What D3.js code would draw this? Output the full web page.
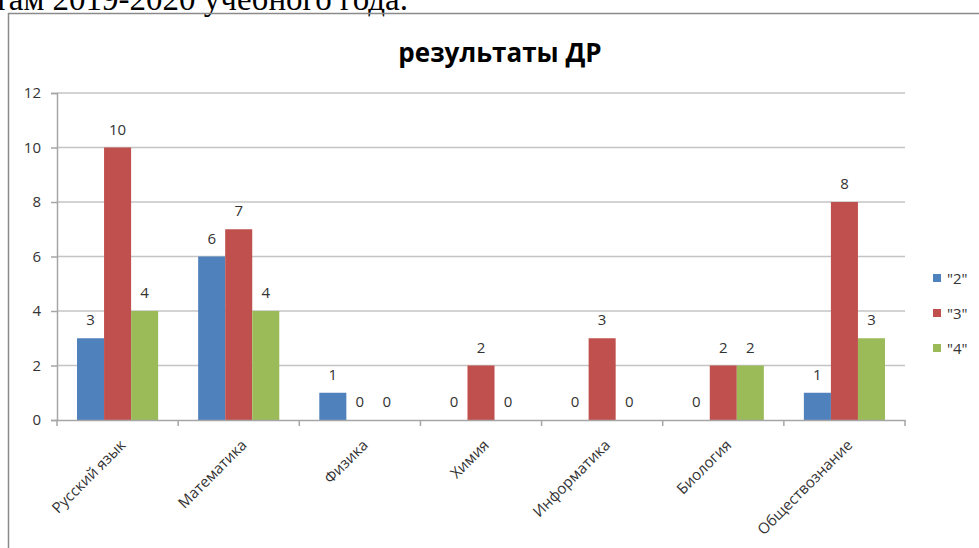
<!DOCTYPE html>
<html>
<head>
<meta charset="utf-8">
<script src="https://cdn.jsdelivr.net/npm/d3@7"></script>
<style>
  body { margin: 0; background: #fff; overflow: hidden; }
  svg { display: block; }
</style>
</head>
<body>
<svg id="chart" width="979" height="548"></svg>
<script>
// data
var subjects = [ 'Русский язык', 'Математика', 'Физика', 'Химия', 'Информатика', 'Биология', 'Обществознание' ],
    seriesNames = [ '"2"', '"3"', '"4"' ],
    grade2 = [ 3, 6, 1, 0, 0, 0, 1 ],
    grade3 = [ 10, 7, 0, 2, 3, 2, 8 ],
    grade4 = [ 4, 4, 0, 0, 0, 2, 3 ],
    yTicks = [ 0, 2, 4, 6, 8, 10, 12 ];

var colors = [ '#4f81bd', '#c0504d', '#9bbb59' ],
    series = [ grade2, grade3, grade4 ],
    font = '"Open Sans", "Noto Sans", sans-serif',
    margin = { top: 93, left: 57, right: 74, bottom: 128 },
    svg = d3.select( '#chart' ),
    width = 979 - margin.left - margin.right,
    height = 548 - margin.top - margin.bottom;

// text above the chart (clipped page text)
svg.append( 'text' )
  .attr( 'x', -6 )
  .attr( 'y', 10 )
  .attr( 'font-family', '"Liberation Serif", "Times New Roman", serif' )
  .attr( 'font-size', 33 )
  .attr( 'fill', '#000' )
  .text( 'там 2019-2020  учебного года.' );

// chart frame
svg.append( 'path' )
  .attr( 'd', 'M8.5 560 V13.5 H990' )
  .attr( 'fill', 'none' )
  .attr( 'stroke', '#8a8a8a' )
  .attr( 'stroke-width', 1.5 );

svg.append( 'text' )
  .attr( 'x', 500 )
  .attr( 'y', 62 )
  .attr( 'text-anchor', 'middle' )
  .attr( 'font-family', font )
  .attr( 'font-weight', 'bold' )
  .attr( 'font-size', 26 )
  .attr( 'fill', '#000' )
  .text( 'результаты ДР' );

var x0 = d3.scaleBand()
      .domain( subjects )
      .range( [ 0, width ] )
      .paddingInner( 0 ),
    x1 = d3.scaleBand()
      .domain( d3.range( series.length ) )
      .range( [ 0, x0.bandwidth() ] )
      .paddingOuter( 0.74 )
      .paddingInner( 0 ),
    y = d3.scaleLinear()
      .domain( [ 0, 12 ] )
      .range( [ height, 0 ] );

var g = svg.append( 'g' )
  .attr( 'transform', 'translate(' + margin.left + ',' + margin.top + ')' );

// gridlines
g.append( 'g' )
  .selectAll( 'line' )
  .data( yTicks.slice( 1 ) )
  .enter().append( 'line' )
  .attr( 'x1', 0 )
  .attr( 'x2', width )
  .attr( 'y1', function( d ) { return y( d ); } )
  .attr( 'y2', function( d ) { return y( d ); } )
  .attr( 'stroke', '#c4c4c4' )
  .attr( 'stroke-width', 1.5 );

// y axis
var yAxis = g.append( 'g' )
  .call( d3.axisLeft( y ).tickValues( yTicks ).tickSize( 6 ).tickPadding( 10 ) );

yAxis.select( '.domain' ).attr( 'stroke', '#a6a6a6' ).attr( 'stroke-width', 1.5 );
yAxis.selectAll( '.tick line' ).attr( 'stroke', '#a6a6a6' ).attr( 'stroke-width', 1.5 );
yAxis.selectAll( '.tick text' )
  .attr( 'font-family', font )
  .attr( 'font-size', 15 )
  .attr( 'fill', '#333' );

// bars
var groups = g.append( 'g' )
  .selectAll( 'g' )
  .data( subjects )
  .enter().append( 'g' )
  .attr( 'transform', function( d ) { return 'translate(' + x0( d ) + ',0)'; } );

groups.selectAll( 'rect' )
  .data( function( d, i ) {
    return series.map( function( s, k ) { return { k: k, v: s[ i ] }; } );
  } )
  .enter().append( 'rect' )
  .attr( 'x', function( d ) { return x1( d.k ); } )
  .attr( 'width', x1.bandwidth() )
  .attr( 'y', function( d ) { return y( d.v ); } )
  .attr( 'height', function( d ) { return height - y( d.v ); } )
  .attr( 'fill', function( d ) { return colors[ d.k ]; } );

groups.selectAll( 'text' )
  .data( function( d, i ) {
    return series.map( function( s, k ) { return { k: k, v: s[ i ] }; } );
  } )
  .enter().append( 'text' )
  .attr( 'x', function( d ) { return x1( d.k ) + x1.bandwidth() / 2; } )
  .attr( 'y', function( d ) { return y( d.v ) - 13; } )
  .attr( 'text-anchor', 'middle' )
  .attr( 'font-family', font )
  .attr( 'font-size', 15 )
  .attr( 'fill', '#333' )
  .text( function( d ) { return d.v; } );

// x axis
var xAxis = g.append( 'g' )
  .attr( 'transform', 'translate(0,' + height + ')' )
  .call( d3.axisBottom( x0 ).tickSize( 0 ).tickPadding( 0 ) );

xAxis.select( '.domain' ).attr( 'stroke', '#a6a6a6' ).attr( 'stroke-width', 1.5 );

xAxis.selectAll( '.sep' )
  .data( d3.range( subjects.length + 1 ) )
  .enter().append( 'line' )
  .attr( 'class', 'sep' )
  .attr( 'x1', function( d ) { return d * x0.step(); } )
  .attr( 'x2', function( d ) { return d * x0.step(); } )
  .attr( 'y1', 0 )
  .attr( 'y2', 6 )
  .attr( 'stroke', '#a6a6a6' )
  .attr( 'stroke-width', 1.5 );

xAxis.selectAll( '.tick text' )
  .attr( 'font-family', font )
  .attr( 'font-size', 15 )
  .attr( 'fill', '#333' )
  .attr( 'text-anchor', 'end' )
  .attr( 'dy', null )
  .attr( 'transform', 'translate(9,26) rotate(-45)' );

// legend
var legend = svg.append( 'g' )
  .selectAll( 'g' )
  .data( seriesNames )
  .enter().append( 'g' )
  .attr( 'transform', function( d, i ) { return 'translate(933,' + ( 278 + i * 35 ) + ')'; } );

legend.append( 'rect' )
  .attr( 'x', 0 )
  .attr( 'y', -4 )
  .attr( 'width', 8 )
  .attr( 'height', 8 )
  .attr( 'fill', function( d, i ) { return colors[ i ]; } );

legend.append( 'text' )
  .attr( 'x', 14 )
  .attr( 'y', 5.5 )
  .attr( 'font-family', font )
  .attr( 'font-size', 15 )
  .attr( 'fill', '#333' )
  .text( function( d ) { return d; } );
</script>
</body>
</html>
